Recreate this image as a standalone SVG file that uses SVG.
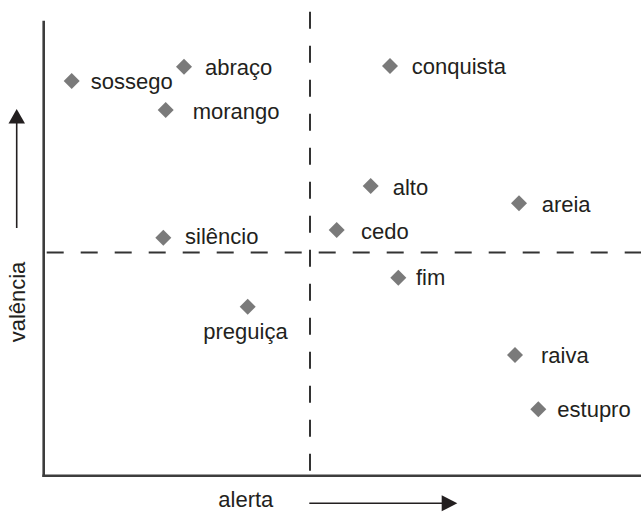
<svg xmlns="http://www.w3.org/2000/svg" width="641" height="512" viewBox="0 0 641 512">
<defs>
<style>
text{font-family:"Liberation Sans",Arial,sans-serif;font-size:22px;fill:#231f20}
.d{fill:#7a7a7a}
.axis{stroke:#3d3d3d;stroke-width:2.6;fill:none}
.dash{stroke:#333;stroke-width:2;stroke-dasharray:17 17;fill:none}
.arr{stroke:#231f20;stroke-width:1.6;fill:none}
.head{fill:#231f20}
</style>
<polygon id="dm" points="0,-8 8,0 0,8 -8,0"/>
</defs>
<rect width="641" height="512" fill="#fff"/>
<g id="axes">
<line class="axis" x1="43.7" y1="20.7" x2="43.7" y2="477"/>
<line class="axis" x1="42.4" y1="475.7" x2="641" y2="475.7"/>
<line class="dash" x1="310" y1="11.7" x2="310" y2="471"/>
<line class="dash" x1="46.7" y1="252.5" x2="641" y2="252.5"/>
<line class="arr" x1="16.7" y1="228" x2="16.7" y2="122"/>
<polygon class="head" points="16.7,109 8.5,123.5 25,123.5"/>
<line class="arr" x1="309.3" y1="503.3" x2="443" y2="503.3"/>
<polygon class="head" points="457.3,503.3 441.7,495.3 441.7,511.3"/>
<text transform="translate(25,302) rotate(-90)" text-anchor="middle">valência</text>
<text x="218.3" y="506.5">alerta</text>
</g>
<g id="sossego"><use href="#dm" class="d" x="71.7" y="81"/><text x="90.7" y="89.3">sossego</text></g>
<g id="abraco"><use href="#dm" class="d" x="184" y="66.7"/><text x="205" y="75">abraço</text></g>
<g id="morango"><use href="#dm" class="d" x="165.7" y="110"/><text x="192.7" y="119">morango</text></g>
<g id="silencio"><use href="#dm" class="d" x="163.3" y="237.7"/><text x="185" y="244">silêncio</text></g>
<g id="conquista"><use href="#dm" class="d" x="390" y="66"/><text x="411.7" y="74">conquista</text></g>
<g id="alto"><use href="#dm" class="d" x="370.7" y="186"/><text x="392.7" y="195">alto</text></g>
<g id="areia"><use href="#dm" class="d" x="519" y="203.3"/><text x="541.7" y="212">areia</text></g>
<g id="cedo"><use href="#dm" class="d" x="336.7" y="230"/><text x="361" y="238.5">cedo</text></g>
<g id="fim"><use href="#dm" class="d" x="398.3" y="277.7"/><text x="416" y="285">fim</text></g>
<g id="preguica"><use href="#dm" class="d" x="247.7" y="306.7"/><text x="245.5" y="339" text-anchor="middle">preguiça</text></g>
<g id="raiva"><use href="#dm" class="d" x="515" y="355"/><text x="541" y="363">raiva</text></g>
<g id="estupro"><use href="#dm" class="d" x="538.3" y="409.3"/><text x="557.3" y="416.5">estupro</text></g>
</svg>
